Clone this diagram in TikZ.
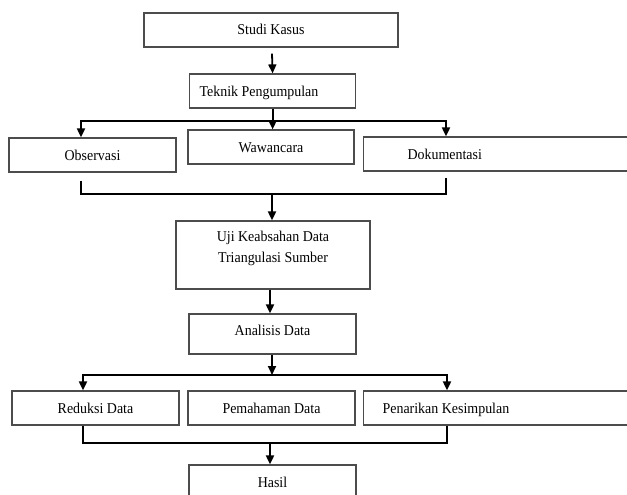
\documentclass[tikz,border=0pt]{standalone}
\usepackage{fontspec}
\setmainfont[FakeStretch=0.93]{Liberation Serif}
\usetikzlibrary{arrows.meta}
\begin{document}
\begin{tikzpicture}[x=1pt,y=-1pt,
  txt/.style={font=\fontsize{15}{21}\selectfont},
  box/.style={txt, draw=black!70, line width=1.2pt, rectangle, inner sep=0pt,
    minimum height=34pt, text height=10pt, text depth=0pt},
  conn/.style={line width=1.8pt, black, line join=miter},
  tip/.tip={Triangle[length=9pt,width=8pt]},
  arr/.style={conn, -tip},
  arr2/.style={conn, tip-tip}]
\useasboundingbox (0,0) rectangle (627,495);
\clip (0,0) rectangle (627,495);

% boxes
\node[box, minimum width=254pt] (sk) at (271,30) {Studi Kasus};
\node[box, anchor=west, text width=146pt, inner xsep=10pt, align=flush left] (tp) at (189,91) {Teknik Pengumpulan};
\node[box, minimum width=167pt] (obs) at (92.5,155) {Observasi};
\node[box, minimum width=166pt] (waw) at (271,147) {Wawancara};
\node[box, anchor=west, text width=200pt, inner xsep=44pt, align=flush left] (dok) at (363,154) {Dokumentasi};
\node[box, minimum width=194pt, minimum height=68pt,
  label={[txt, align=center, anchor=north, inner sep=0pt, yshift=-10.5pt]north:{Uji Keabsahan Data\\Triangulasi Sumber}}] (uji) at (273,255) {};
\node[box, minimum width=167pt, minimum height=40pt, text depth=8pt] (ana) at (272.5,334) {Analisis Data};
\node[box, minimum width=167pt] (red) at (95.5,408) {Reduksi Data};
\node[box, minimum width=167pt] (pem) at (271.5,408) {Pemahaman Data};
\node[box, anchor=west, text width=250pt, inner xsep=19pt, align=flush left] (pen) at (363,408) {Penarikan Kesimpulan};
\node[box, minimum width=167pt] (has) at (272.5,482) {Hasil};

% junction coordinates
\coordinate (b1l) at (81,121);
\coordinate (b1r) at (446,121);
\coordinate (m1l) at (81,194);
\coordinate (m1r) at (446,194);
\coordinate (m1c) at (272,194);
\coordinate (b2l) at (83,375);
\coordinate (b2r) at (447,375);
\coordinate (m2l) at (83,443);
\coordinate (m2r) at (447,443);
\coordinate (m2c) at (270,443);

% connectors
\draw[arr] ([shift={(1,6)}]sk.south) -- (tp.north);
\draw[arr] (tp.south) -- (tp.south |- waw.north);
\draw[arr2] (obs.north -| b1l) -- (b1l) -- (b1r) -- (dok.north -| b1r);
\draw[conn] ([yshift=-8pt]obs.south -| m1l) -- (m1l) -- (m1r) -- ([yshift=-6pt]dok.south -| m1r);
\draw[arr] (m1c) -- (m1c |- uji.north);
\draw[arr] ([xshift=-3pt]uji.south) -- ([xshift=-3pt]uji.south |- ana.north);
\draw[arr] ([xshift=-0.5pt]ana.south) -- ([xshift=-0.5pt]ana.south |- b2l);
\draw[arr2] (red.north -| b2l) -- (b2l) -- (b2r) -- (pen.north -| b2r);
\draw[conn] (red.south -| m2l) -- (m2l) -- (m2r) -- (pen.south -| m2r);
\draw[arr] (m2c) -- (m2c |- has.north);
\end{tikzpicture}
\end{document}
